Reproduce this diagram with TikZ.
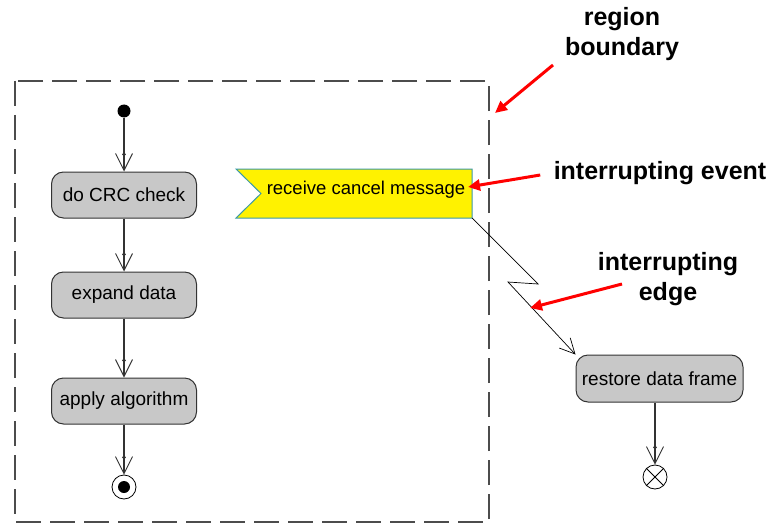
\documentclass[tikz,border=0pt]{standalone}
\usepackage{fontspec}
\setmainfont{Liberation Sans}
\usetikzlibrary{arrows.meta,shapes.symbols,positioning}
\definecolor{boxgray}{HTML}{C8C8C8}
\definecolor{linegray}{HTML}{333333}
\definecolor{evteal}{HTML}{3A9AA8}
\begin{document}
\begin{tikzpicture}[x=1pt,y=-1pt,
  action/.style={draw=linegray,line width=1pt,fill=boxgray,rounded corners=12pt,
    minimum width=145pt,minimum height=46pt,inner sep=0pt,font=\fontsize{19}{22}\selectfont},
  flow/.style={draw=linegray,line width=1.1pt,
    -{Circle[length=3.5pt,sep=-3pt]Straight Barb[length=17pt,width=17pt,line width=0.9pt]}},
  note/.style={font=\fontsize{25}{30}\selectfont\bfseries,align=center},
  callout/.style={red,line width=3pt,-{Triangle[length=12pt,width=11pt]}},
]
\useasboundingbox (0,0) rectangle (770,524);
% region boundary
\draw[draw=black!70,line width=1.8pt,dash pattern=on 25pt off 9pt] (15,81) rectangle (489,522);
% initial node
\node[circle,fill=black,minimum size=13pt,inner sep=0pt] (init) at (124,111) {};
\node[action] (crc) at (124,195) {do CRC check};
\node[action] (exp) at (124,295) {expand data};
\node[action] (alg) at (124,401) {apply algorithm};
\node[circle,draw=black,line width=0.8pt,minimum size=24pt,inner sep=0pt] (fin) at (124,487) {};
\node[circle,fill=black,minimum size=12pt,inner sep=0pt] at (fin) {};
\draw[flow] (init) -- (crc);
\draw[flow] (crc) -- (exp);
\draw[flow] (exp) -- (alg);
\draw[flow] (alg) -- (fin);
% accept event
\coordinate (e1) at (236,169);
\coordinate (e2) at (472,169);
\coordinate (e3) at (472,218);
\coordinate (e4) at (236,218);
\coordinate (e5) at (261,193.5);
\filldraw[fill=yellow,draw=evteal,line width=1pt] (e1) -- (e2) -- (e3) -- (e4) -- (e5) -- cycle;
\node[font=\fontsize{18.5}{21}\selectfont,inner sep=0pt] (evt) at (366,190) {receive cancel message};
% restore
\node[action,minimum width=167pt,minimum height=47pt] (rest) at (659.5,378.5) {restore data frame};
\node[circle,draw=black,line width=0.8pt,minimum size=24pt,inner sep=0pt] (ff) at (655,477) {};
\draw[line width=0.8pt] (ff.north west) -- (ff.south east) (ff.north east) -- (ff.south west);
\draw[flow] (rest.south -| ff) -- (ff);
% interrupting edge
\coordinate (z1) at (538,284);
\coordinate (z2) at (508,282);
\draw[black,line width=0.7pt,-{Straight Barb[length=15pt,width=15pt,line width=0.7pt]}]
  (e3) -- (z1) -- (z2) -- (rest.north west);
% annotations
\node[note] (nreg) at (622,34) {region\\boundary};
\node[note] (nevt) at (660,173) {interrupting event};
\node[note] (nedge) at (668,279) {interrupting\\edge};
\coordinate (t1) at (495,113);
\coordinate (t2) at (468,187);
\coordinate (t3) at (530,308);
\draw[callout] (553,65) -- (t1);
\draw[callout] (nevt.west) ++(-10,2) -- (t2);
\draw[callout] (622,284) -- (t3);
\end{tikzpicture}
\end{document}
